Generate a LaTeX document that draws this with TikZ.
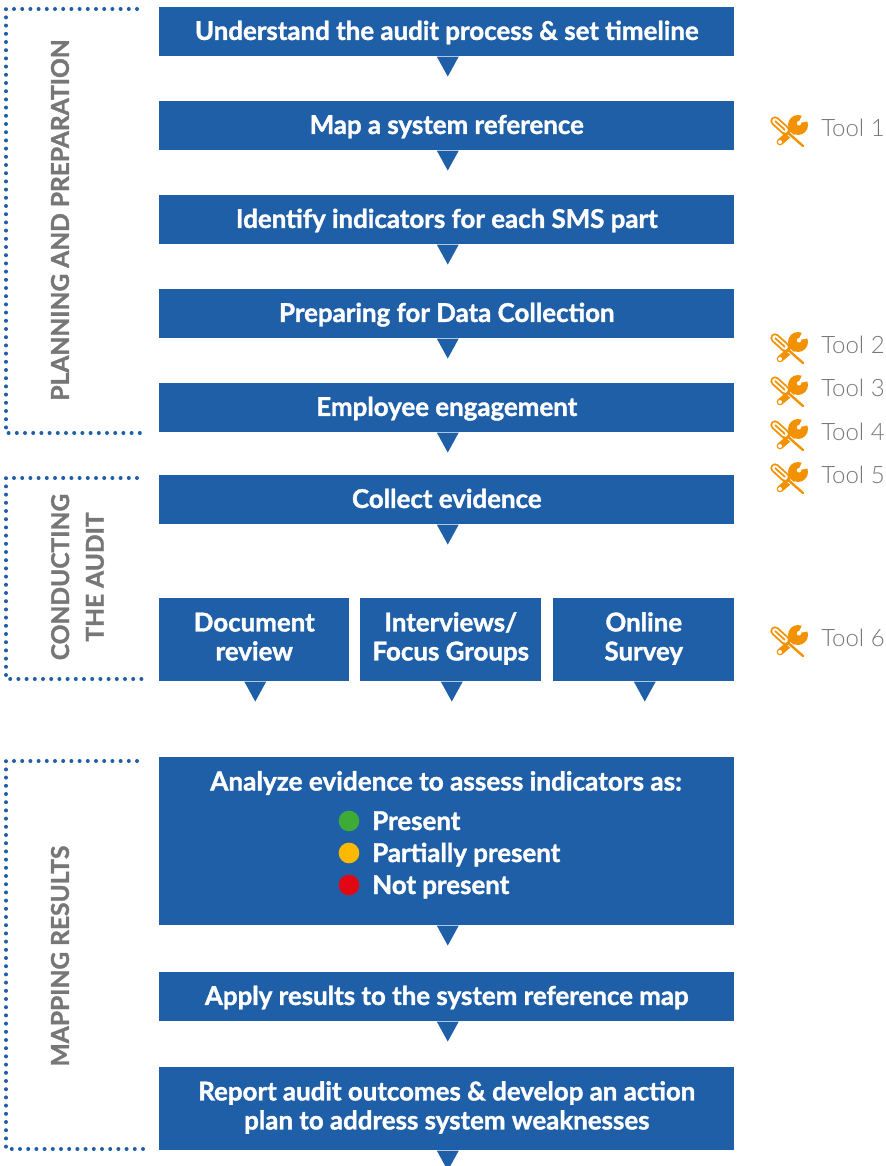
\documentclass[tikz,border=0pt]{standalone}
\usepackage{fontspec}
\setmainfont{Lato}[BoldFeatures={FakeBold=1.4}]
\newfontfamily\toolfont{Lato Light}
\usetikzlibrary{positioning}
\definecolor{boxblue}{HTML}{1F5FA8}
\definecolor{labelgray}{HTML}{777777}
\definecolor{toolorange}{HTML}{F39200}
\newcommand{\linestrut}{\rule[-4.75pt]{0pt}{21.75pt}}
\newcommand{\pairstrut}{\rule[-6.25pt]{0pt}{21.75pt}}
\tikzset{
  stepbox/.style={fill=boxblue,text=white,font=\bfseries\fontsize{19.4}{21.75}\selectfont,align=center,inner sep=0pt,anchor=north west,minimum width=431.25pt,minimum height=36.75pt},
  smallbox/.style={stepbox,minimum height=62.25pt},
  phaselabel/.style={text=labelgray,font=\bfseries\fontsize{18.4}{26}\selectfont,align=center,rotate=90,inner sep=0pt},
  bracket/.style={draw=boxblue,line width=3pt,line cap=round,dash pattern=on 0pt off 6.15pt},
  toollabel/.style={text=labelgray,font=\toolfont\fontsize{18}{21}\selectfont,anchor=west,inner sep=0pt},
  ratedot/.style={circle,inner sep=0pt,minimum size=15.5pt},
  ratelabel/.style={text=white,font=\bfseries\fontsize{19.4}{21.75}\selectfont,anchor=base west,inner sep=0pt},
  toolicon/.pic={
    % wrench
    \fill[toolorange] (9,-6) circle (10);
    \fill[white] (9.3,-7.7) -- (15,-20) -- (25,-11) -- cycle;
    \fill[white] (10,-7.7) circle (2.2);
    \draw[toolorange,line width=5pt,line cap=round] (4,0) -- (-9,11);
    \fill[white] (-9,11) circle (2);
    % screwdriver
    \draw[white,line width=3.2pt] (-3,0) -- (14,15);
    \draw[toolorange,line width=1.8pt,line cap=round] (-3,0) -- (14,15);
    \draw[toolorange,line width=7pt,line cap=round] (-14,-10) -- (-3,0);
    \draw[white,line width=4.2pt,line cap=round] (-14,-10) -- (-4,-1);
    \draw[toolorange,line width=1.3pt] (-14,-10) -- (-4,-1);
  },
}
\begin{document}
\begin{tikzpicture}[x=.75pt,y=-.75pt]
\useasboundingbox (0,0) rectangle (885,1166);
% steps
\node[stepbox] (understand) at (159,7) {\linestrut Understand the audit process \& set timeline};
\node[stepbox] (mapref) at (159,101) {\linestrut Map a system reference};
\node[stepbox] (indicators) at (159,195) {\linestrut Identify indicators for each SMS part};
\node[stepbox] (preparing) at (159,289) {\linestrut Preparing for Data Collection};
\node[stepbox] (engagement) at (159,383) {\linestrut Employee engagement};
\node[stepbox] (collect) at (159,475) {\linestrut Collect evidence};
\node[smallbox,minimum width=142.5pt] (docreview) at (159,598) {\pairstrut Document\\\pairstrut review};
\node[smallbox,minimum width=135.75pt] (interviews) at (360,598) {\pairstrut Interviews/\\\pairstrut Focus Groups};
\node[smallbox,minimum width=135.75pt] (survey) at (553,598) {\pairstrut Online\\\pairstrut Survey};
\node[stepbox,minimum height=126pt] (analyze) at (159,757) {};
\node[stepbox,minimum height=36.75pt] (apply) at (159,972) {\linestrut Apply results to the system reference map};
\node[smallbox] (report) at (159,1067) {\pairstrut Report audit outcomes \& develop an action\\\pairstrut plan to address system weaknesses};
\foreach \n in {understand,mapref,indicators,preparing,engagement,collect,docreview,interviews,survey,analyze,apply,report}
  \fill[boxblue] ([xshift=-7.5pt]\n.south) -- ([xshift=9pt]\n.south) -- ([xshift=.75pt,yshift=-15pt]\n.south) -- cycle;
% analyze box content
\node[text=white,font=\bfseries\fontsize{19.6}{21.75}\selectfont,inner sep=0pt] (analyzetitle) at (446,783) {Analyze evidence to assess indicators as:};
\foreach \y/\c/\t/\name in {821/3FAB37/Present/present,853/FDB900/Partially present/partial,885/E30613/Not present/notpresent}{
  \definecolor{ratecolor}{HTML}{\c}
  \node[ratedot,fill=ratecolor] (dot\name) at (349,\y) {};
  \node[ratelabel] (label\name) at (372,\y+9) {\t};
}
% phases
\draw[bracket] (137,9) -- (6,9) -- (6,433) -- (143,433);
\draw[bracket] (137,478) -- (6,478) -- (6,679) -- (143,679);
\draw[bracket] (137,761) -- (6,761) -- (6,1149) -- (143,1149);
\node[phaselabel] (planning) at (60,220) {PLANNING AND PREPARATION};
\node[phaselabel] (conducting) at (77.5,577) {CONDUCTING\\THE AUDIT};
\node[phaselabel] (mapping) at (60,956) {MAPPING RESULTS};
% tools
\foreach \y/\t in {128/1,345/2,388/3,432/4,475/5,638/6}{
  \pic at (789,\y+3) {toolicon};
  \node[toollabel] (tool\t) at (821,\y) {Tool \t};
}
\end{tikzpicture}
\end{document}
